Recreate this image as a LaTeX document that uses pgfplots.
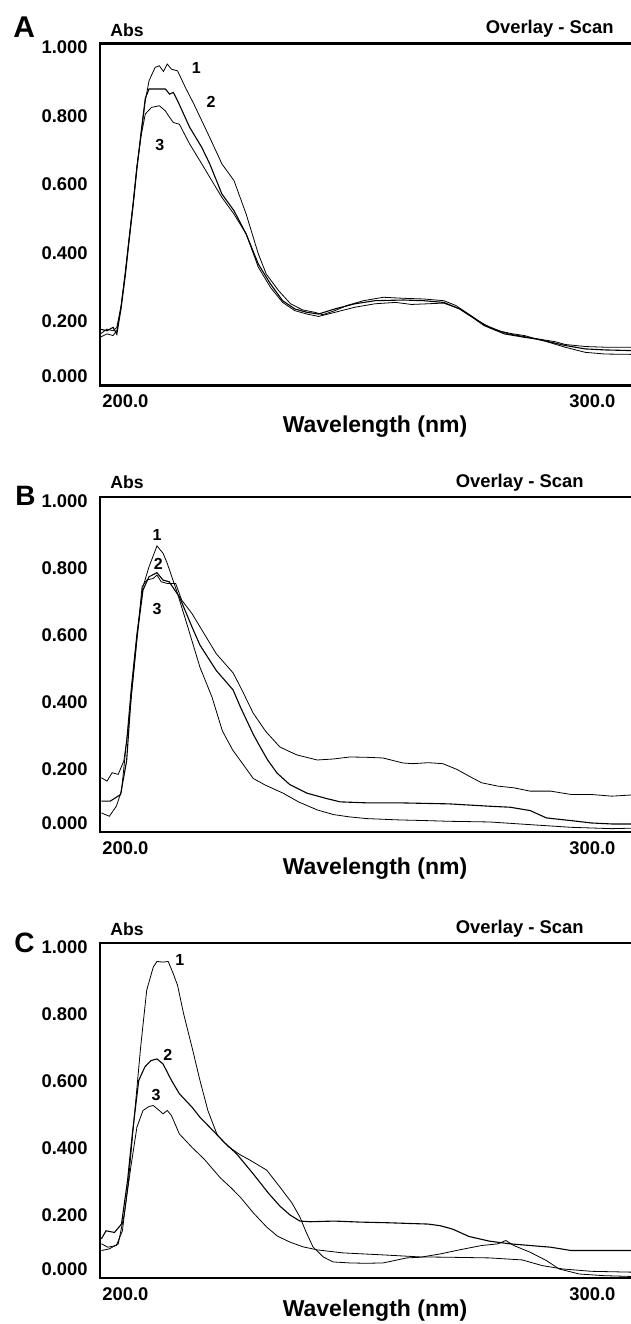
\documentclass[border=0pt]{standalone}
\usepackage{fontspec}
\setmainfont{Liberation Sans}
\usepackage{pgfplots}
\pgfplotsset{compat=1.18}

% one UV overlay panel: 1 px of the scan = 0.5pt
\pgfplotsset{
  uvpanel/.style={
    scale only axis, width=265.5pt, anchor=south west,
    xmin=200, xmax=313.7, ymin=0, ymax=1,
    axis lines=left, axis line style={-, line width=1.1pt, line cap=rect},
    enlargelimits=false, clip mode=individual,
    major tick length=0pt,
    xtick={200,300}, xticklabels={200.0,300.0},
    ytick={0.2,0.4,0.6,0.8,1.0},
    yticklabels={0.200,0.400,0.600,0.800,1.000},
    extra y ticks={0}, extra y tick labels={0.000},
    extra y tick style={yticklabel style={yshift=6.5pt}},
    ticklabel style={font=\fontsize{9.2}{10}\selectfont\bfseries},
    yticklabel style={anchor=east, inner sep=0pt, xshift=-6pt, yshift=-2pt},
    xticklabel style={anchor=north west, inner sep=0pt, xshift=1pt, yshift=-4.5pt},
    cycle list={{black, line width=0.55pt}},
    no markers,
  },
}
\tikzset{
  toplabel/.style={font=\fontsize{8}{9}\selectfont\bfseries, inner sep=0pt},
  lbl/.style={inner sep=0pt},
}
\newcommand{\topspine}{\draw[line width=1.1pt, line cap=rect] (rel axis cs:0,1) -- (rel axis cs:1,1);}

\begin{document}
\begin{tikzpicture}

  % ---------------- panel A ----------------
  \begin{axis}[uvpanel, height=171pt, at={(50pt,-192.75pt)}]
    \topspine
    \addplot coordinates {(200,0.141)(201.5,0.151)(202.8,0.146)(203.6,0.161)(204.5,0.229)(205.4,0.326)(206.2,0.424)(207.1,0.531)(207.9,0.638)(208.8,0.735)(209.7,0.833)(210.5,0.891)(211.8,0.930)(212.7,0.935)(213.6,0.918)(214.4,0.940)(215.3,0.925)(216.6,0.920)(218.3,0.871)(220.1,0.823)(221.8,0.774)(223.5,0.725)(226.1,0.648)(228.7,0.599)(231.3,0.501)(233.9,0.385)(235.6,0.326)(238.2,0.278)(240.8,0.239)(243.4,0.221)(246.0,0.214)(247.7,0.207)(250.3,0.219)(252.9,0.234)(256.4,0.248)(260.7,0.258)(265.0,0.255)(269.3,0.253)(273.6,0.248)(276.2,0.234)(279.7,0.202)(282.3,0.178)(285.7,0.159)(288.0,0.152)(290.9,0.146)(293.0,0.138)(295.2,0.133)(297.5,0.128)(299.6,0.120)(303.9,0.114)(308.2,0.112)(314.1,0.112)};
    \addplot coordinates {(200,0.165)(201.5,0.160)(202.8,0.170)(203.6,0.150)(204.5,0.225)(205.4,0.320)(206.2,0.420)(207.1,0.528)(207.9,0.634)(208.8,0.740)(209.7,0.840)(210.5,0.867)(212,0.867)(214,0.867)(214.9,0.852)(215.7,0.857)(216.6,0.833)(219.2,0.755)(221.8,0.696)(223.5,0.648)(226.1,0.560)(228.7,0.511)(231.3,0.443)(233.9,0.355)(236.5,0.297)(239.1,0.248)(241.7,0.224)(244.3,0.214)(246.8,0.209)(250.3,0.224)(254.6,0.239)(258.9,0.248)(265,0.250)(269.3,0.248)(273.6,0.243)(277,0.224)(279.7,0.200)(282.3,0.175)(286.6,0.151)(290.9,0.141)(293.5,0.136)(295.2,0.131)(299.6,0.117)(303.9,0.107)(308.2,0.104)(314.1,0.102)};
    \addplot coordinates {(200,0.150)(201.5,0.165)(202.8,0.160)(203.6,0.170)(204.5,0.232)(205.4,0.330)(206.2,0.428)(207.1,0.535)(207.9,0.640)(208.8,0.730)(209.7,0.794)(211,0.813)(212.7,0.818)(214,0.803)(214.9,0.784)(215.7,0.769)(217,0.764)(219.2,0.706)(221.8,0.648)(223.5,0.609)(226.1,0.550)(228.7,0.501)(231.3,0.443)(233.9,0.346)(236.5,0.287)(239.1,0.243)(241.7,0.219)(244.3,0.209)(246.8,0.202)(250.3,0.214)(254.6,0.229)(258.9,0.239)(263.3,0.243)(266.7,0.237)(270.2,0.239)(273.6,0.241)(277,0.224)(280.6,0.192)(284,0.166)(287.5,0.151)(290.9,0.143)(295.2,0.130)(299.6,0.112)(303.9,0.097)(308.2,0.092)(314.1,0.091)};
    \node[toplabel] at (axis cs:220.6,0.927) {1};
    \node[toplabel] at (axis cs:223.8,0.830) {2};
    \node[toplabel] at (axis cs:212.8,0.702) {3};
  \end{axis}

  % ---------------- panel B ----------------
  \begin{axis}[uvpanel, height=167.5pt, at={(50pt,-416pt)}]
    \topspine
    \addplot coordinates {(200.3,0.057)(202,0.047)(203.5,0.077)(204.6,0.122)(205.7,0.272)(206.7,0.432)(207.9,0.592)(209.2,0.732)(210.5,0.792)(212.2,0.854)(213.5,0.832)(214.4,0.802)(216.6,0.712)(218.8,0.612)(221.4,0.492)(224,0.402)(226.2,0.302)(228.4,0.245)(231,0.195)(232.8,0.160)(235.4,0.140)(239.2,0.116)(242.5,0.090)(246.5,0.066)(250,0.052)(253.5,0.045)(257.2,0.040)(264.2,0.036)(270,0.034)(274.7,0.032)(283.4,0.030)(292.1,0.022)(300.9,0.014)(309.6,0.010)(315.5,0.012)};
    \addplot coordinates {(200.3,0.092)(202.2,0.092)(204.4,0.112)(205.7,0.212)(206.7,0.412)(207.9,0.582)(209.2,0.722)(210.5,0.762)(212.2,0.774)(213.5,0.752)(214.8,0.747)(217,0.702)(219.7,0.612)(221.4,0.558)(224.9,0.482)(228.5,0.424)(230.1,0.372)(232.8,0.292)(234.3,0.254)(235.9,0.215)(237.9,0.176)(240.6,0.142)(244.3,0.116)(248.5,0.100)(251.4,0.090)(257.2,0.087)(264.2,0.087)(274.7,0.084)(283.4,0.077)(287.8,0.074)(292.1,0.064)(295.6,0.042)(300.9,0.034)(305.2,0.027)(309.6,0.024)(315.5,0.024)};
    \addplot coordinates {(200.3,0.162)(201.5,0.152)(202.6,0.177)(203.9,0.172)(205.1,0.212)(205.9,0.292)(206.7,0.402)(207.9,0.572)(209,0.732)(210,0.752)(211.4,0.757)(212.2,0.767)(213.1,0.747)(214.4,0.742)(216.2,0.742)(217.5,0.692)(219.7,0.652)(222.3,0.592)(224.9,0.532)(228.5,0.475)(230.1,0.432)(232.8,0.355)(235.5,0.300)(238.5,0.254)(240.6,0.240)(242.2,0.230)(246.5,0.215)(250,0.218)(253.5,0.224)(257,0.223)(260.6,0.221)(264.9,0.206)(267,0.204)(270.3,0.207)(273.4,0.204)(276.4,0.187)(279,0.167)(281.7,0.147)(285.2,0.137)(288.6,0.132)(292.1,0.122)(296.5,0.122)(300.9,0.112)(305.2,0.112)(309.6,0.107)(315.5,0.112)};
    \node[toplabel] at (axis cs:212.2,0.887) {1};
    \node[toplabel] at (axis cs:212.5,0.800) {2};
    \node[toplabel] at (axis cs:212.2,0.667) {3};
  \end{axis}

  % ---------------- panel C ----------------
  \begin{axis}[uvpanel, height=167.5pt, at={(50pt,-639pt)}]
    \topspine
    \addplot coordinates {(200.3,0.102)(201.7,0.092)(203.5,0.097)(204.8,0.141)(206.1,0.291)(207.4,0.490)(208.7,0.689)(210,0.859)(211.4,0.928)(212.2,0.945)(213.5,0.943)(214.6,0.945)(215.7,0.908)(216.6,0.874)(217.9,0.789)(219.7,0.689)(221.4,0.590)(223.1,0.500)(225.1,0.427)(227.5,0.392)(230,0.368)(232.1,0.352)(235.7,0.322)(238.5,0.272)(241.1,0.224)(242.8,0.182)(244.2,0.135)(245.6,0.093)(247.8,0.063)(249.9,0.048)(253.5,0.045)(257,0.044)(260.6,0.045)(265.7,0.060)(268.6,0.062)(272.9,0.072)(277.3,0.085)(281.7,0.097)(285.2,0.102)(286.9,0.112)(288.6,0.097)(292.1,0.077)(295.6,0.052)(298.3,0.027)(302.6,0.012)(307.9,0.007)(315.5,0.004)};
    \addplot coordinates {(200.3,0.117)(201.3,0.141)(203.1,0.136)(204.6,0.161)(205.9,0.291)(207,0.440)(208.3,0.590)(209.6,0.630)(210.9,0.649)(212.2,0.654)(213.5,0.639)(215.3,0.590)(217,0.550)(219.7,0.510)(221.4,0.480)(225.1,0.427)(226.6,0.405)(229.3,0.370)(232.8,0.311)(236.2,0.251)(238.5,0.215)(240.7,0.188)(242.8,0.170)(245,0.168)(250.2,0.170)(255.5,0.167)(261.6,0.165)(265.9,0.163)(270.3,0.161)(272.9,0.156)(275.5,0.146)(279,0.124)(283.4,0.110)(287.8,0.102)(292.1,0.097)(296.5,0.092)(300.9,0.082)(309.6,0.082)(315.5,0.082)};
    \addplot coordinates {(200.3,0.082)(202,0.087)(203.9,0.102)(205.2,0.191)(206.6,0.331)(207.9,0.450)(209.2,0.500)(210.5,0.512)(211.4,0.515)(212.7,0.500)(213.5,0.490)(214.4,0.500)(215.3,0.485)(217,0.430)(219.7,0.390)(222.3,0.355)(225.7,0.300)(228,0.270)(230,0.242)(232.8,0.195)(235.7,0.152)(238,0.125)(240.7,0.107)(243.5,0.093)(246.5,0.084)(252,0.075)(260.6,0.069)(268.5,0.063)(274.7,0.062)(283.4,0.060)(290.4,0.054)(294.7,0.037)(299.1,0.027)(305.2,0.020)(315.5,0.017)};
    \node[toplabel] at (axis cs:217.1,0.949) {1};
    \node[toplabel] at (axis cs:214.5,0.666) {2};
    \node[toplabel] at (axis cs:212.0,0.546) {3};
  \end{axis}

  % panel letters and captions
  \node[lbl, anchor=base west, font=\fontsize{15}{16}\selectfont\bfseries] at (6.5pt,-18.5pt) {A};
  \node[lbl, anchor=base west, font=\fontsize{14}{15}\selectfont\bfseries] at (7.5pt,-252.5pt) {B};
  \node[lbl, anchor=base west, font=\fontsize{14}{15}\selectfont\bfseries] at (7pt,-476pt) {C};
  \foreach \yb in {-18pt,-244pt,-467.5pt}
    \node[lbl, anchor=base west, font=\fontsize{8.8}{10}\selectfont\bfseries] at (55pt,\yb) {Abs};
  \node[lbl, anchor=base east, font=\fontsize{9.2}{10}\selectfont\bfseries] at (307pt,-16.5pt) {Overlay - Scan};
  \node[lbl, anchor=base east, font=\fontsize{9.2}{10}\selectfont\bfseries] at (292pt,-243.5pt) {Overlay - Scan};
  \node[lbl, anchor=base east, font=\fontsize{9.2}{10}\selectfont\bfseries] at (292pt,-466.5pt) {Overlay - Scan};
  \foreach \yb in {-216pt,-437pt,-658pt}
    \node[lbl, anchor=base, font=\fontsize{11.5}{13}\selectfont\bfseries] at (187.5pt,\yb) {Wavelength (nm)};

  \pgfresetboundingbox
  \path (0pt,0pt) rectangle (315.5pt,-662pt);
\end{tikzpicture}
\end{document}
